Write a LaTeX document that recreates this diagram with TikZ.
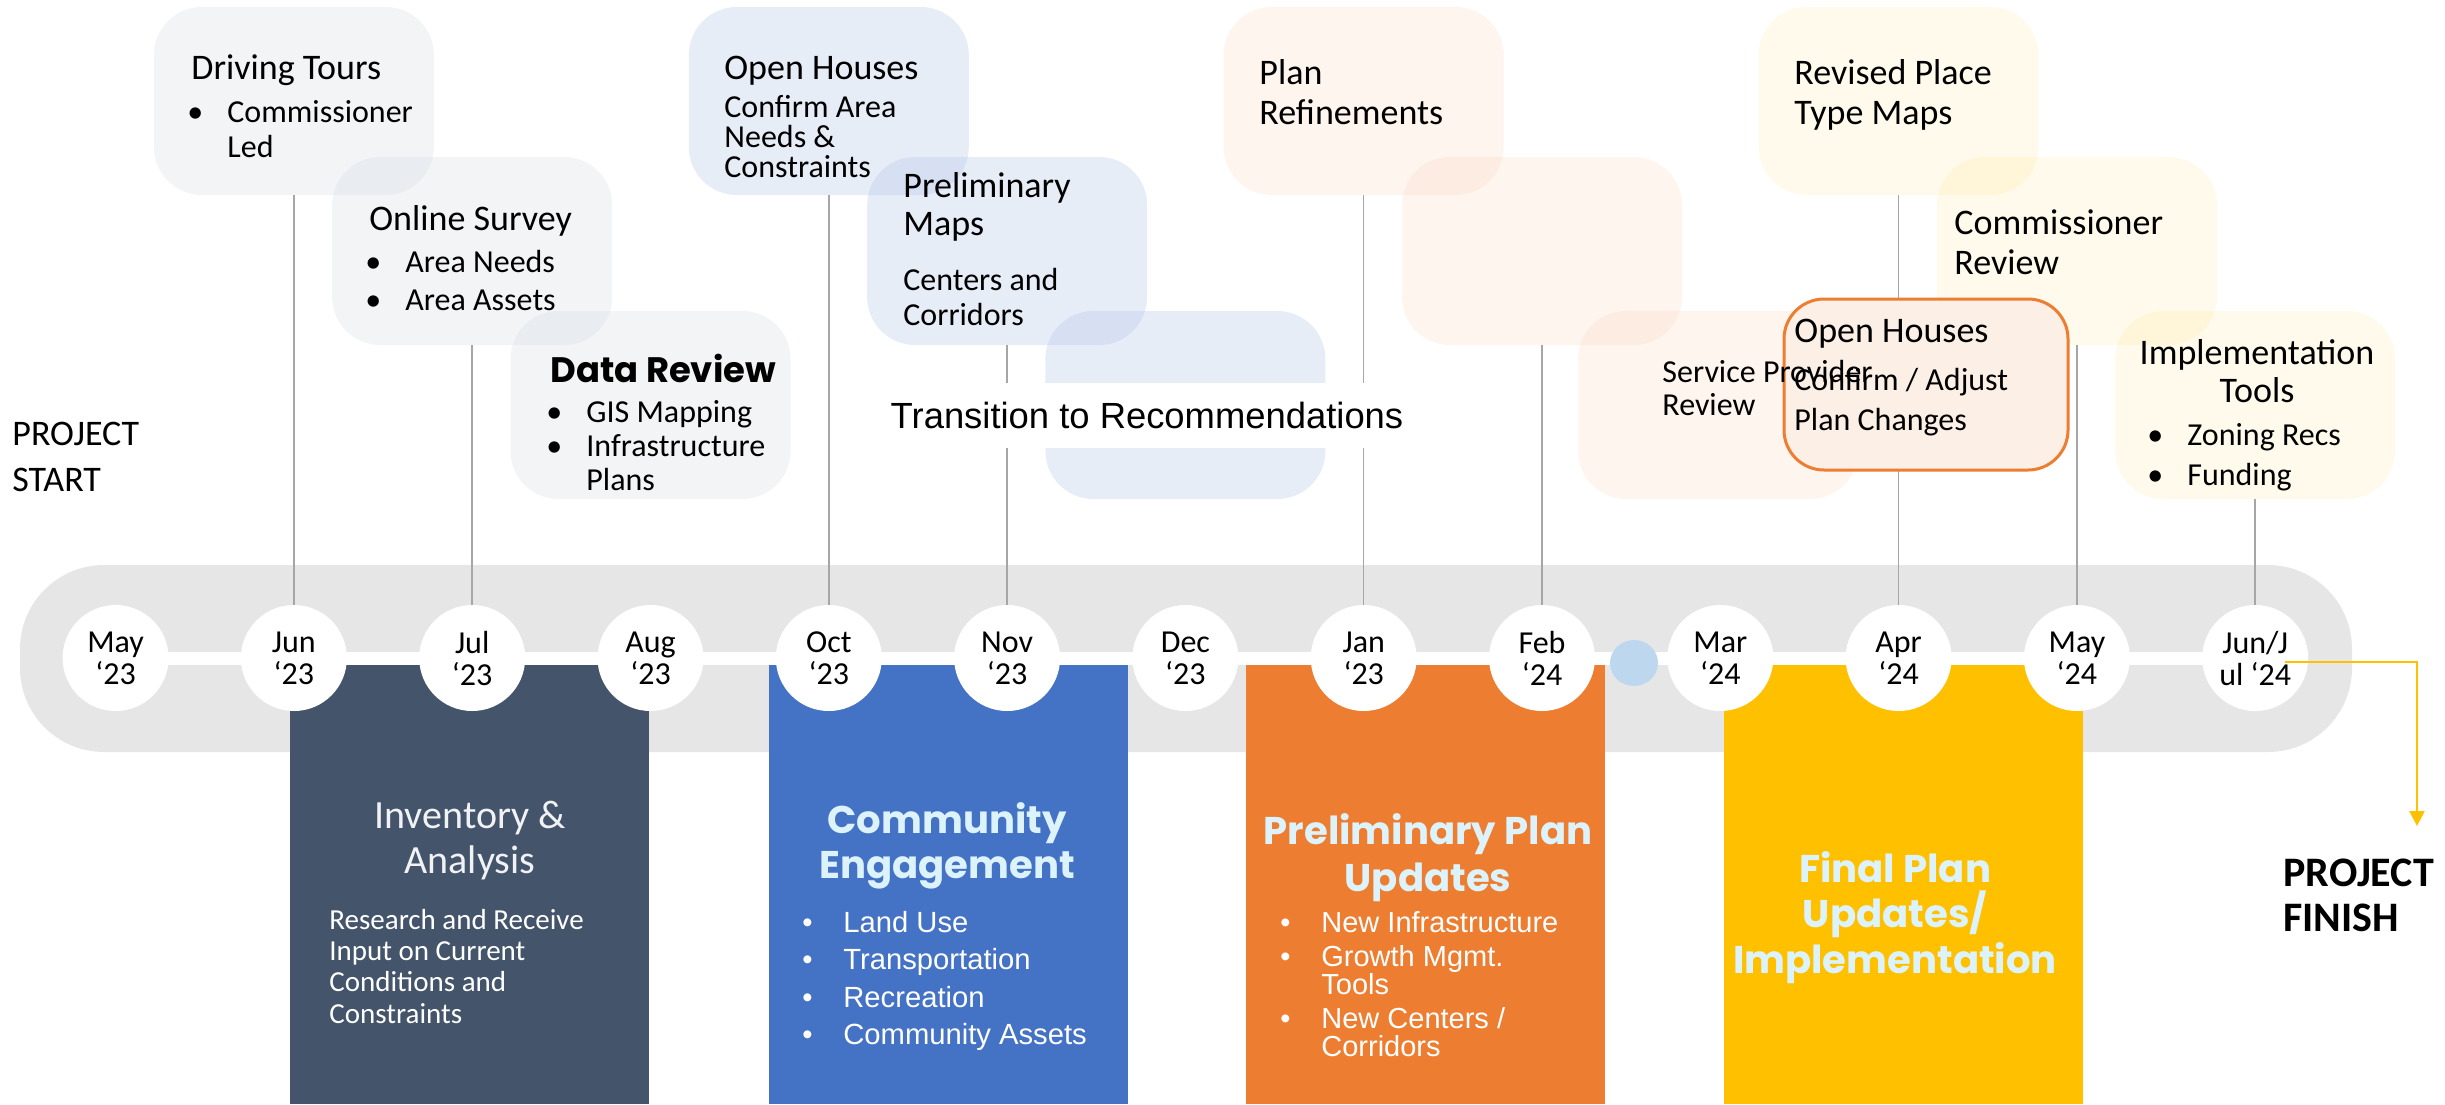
\documentclass[tikz,border=0pt]{standalone}
\usepackage{fontspec}
\setmainfont{Carlito}
\newfontfamily\geo{Poppins}
\newfontfamily\arialf{Liberation Sans}
\usetikzlibrary{arrows.meta,shapes.geometric}

\definecolor{bandgray}{HTML}{E6E6E6}
\definecolor{linegray}{HTML}{A6A6A6}
\definecolor{slate}{HTML}{44546A}
\definecolor{accblue}{HTML}{4472C4}
\definecolor{accorange}{HTML}{ED7D31}
\definecolor{accgold}{HTML}{FFC000}
\definecolor{dotblue}{HTML}{BDD7EE}
\definecolor{headcyan}{HTML}{DDF3FB}
\definecolor{invtitle}{HTML}{F0F2F5}
\definecolor{tintgray}{HTML}{D6DCE4}
\definecolor{tintblue}{HTML}{B4C7E7}
\definecolor{tintorange}{HTML}{F8CBAD}
\definecolor{tintgold}{HTML}{FFE699}
\definecolor{peach}{HTML}{FBEFE6}

\newcommand\fTitle{\fontsize{18}{20}\selectfont}
\newcommand\fSub{\fontsize{16}{17.5}\selectfont}
\newcommand\bul{\makebox[20pt][l]{•}}
\newcommand\ind{\hspace*{20pt}}
\newcommand\bulw{\makebox[20.5pt][l]{•}}
\newcommand\indw{\hspace*{20.5pt}}

\begin{document}
% multi-line labels are placed by the baseline of their last line
\begin{tikzpicture}[x=0.5pt, y=-0.5pt,
  month/.style={circle, fill=white, minimum size=53pt, inner sep=0pt, align=center,
                font=\fontsize{16}{16}\selectfont},
  callout/.style={rounded corners=24pt, minimum width=140pt, minimum height=94pt, inner sep=0pt},
  graytint/.style={callout, fill=tintgray, fill opacity=0.32},
  bluetint/.style={callout, fill=tintblue, fill opacity=0.33},
  orangetint/.style={callout, fill=tintorange, fill opacity=0.2},
  goldtint/.style={callout, fill=tintgold, fill opacity=0.2},
  phase/.style={rectangle, inner sep=0pt, minimum width=179.5pt, minimum height=219.5pt},
  conn/.style={draw=linegray, line width=0.75pt},
  lbl/.style={anchor=base west, align=left, inner sep=0pt},
  ctr/.style={anchor=base, align=center, inner sep=0pt},
  phasehead/.style={ctr, text=headcyan, font=\geo\bfseries\fontsize{19.3}{22.5}\selectfont},
  phaselist/.style={lbl, text=white, font=\arialf\fontsize{14.6}{18.7}\selectfont}
]
\useasboundingbox (0,0) rectangle (2445,1104);

% timeline band and its centre stripe
\fill[bandgray, rounded corners=42pt] (20,565) rectangle (2352,752);
\fill[white] (115,652) rectangle (2255,665);

% phase columns
\node[phase, fill=slate]     (invbox)   at (469.5,884.5)  {};
\node[phase, fill=accblue]   (combox)   at (948,884.5)    {};
\node[phase, fill=accorange] (prelbox)  at (1425.5,884.5) {};
\node[phase, fill=accgold]   (finalbox) at (1903.5,884.5) {};

% month markers
\node[month] (m1)  at (115.6,658)  {May\\‘23};
\node[month] (m2)  at (293.9,658)  {Jun\\‘23};
\node[month] (m3)  at (472.2,658)  {Jul\\‘23};
\node[month] (m4)  at (650.5,658)  {Aug\\‘23};
\node[month] (m5)  at (828.8,658)  {Oct\\‘23};
\node[month] (m6)  at (1007.1,658) {Nov\\‘23};
\node[month] (m7)  at (1185.4,658) {Dec\\‘23};
\node[month] (m8)  at (1363.7,658) {Jan\\‘23};
\node[month] (m9)  at (1542,658)   {Feb\\‘24};
\node[month] (m10) at (1720.3,658) {Mar\\‘24};
\node[month] (m11) at (1898.6,658) {Apr\\‘24};
\node[month] (m12) at (2076.9,658) {May\\‘24};
\node[month] (m13) at (2255.2,658) {Jun/J\\ul ‘24};
\node[ellipse, fill=dotblue, minimum width=24pt, minimum height=23pt, inner sep=0pt] (dot) at (1634,663) {};

% milestone call-outs
\node[graytint]   (drive)     at (293.9,101)  {};
\node[graytint]   (survey)    at (472.2,251)  {};
\node[graytint]   (datarev)   at (650.5,405)  {};
\node[bluetint]   (openoct)   at (828.8,101)  {};
\node[bluetint]   (prelmaps)  at (1007.1,251) {};
\node[bluetint]   (transbox)  at (1185.4,405) {};
\node[orangetint] (refine)    at (1363.7,101) {};
\node[orangetint] (orangemid) at (1542,251)   {};
\node[orangetint] (service)   at (1718,405)   {};
\node[goldtint]   (revised)   at (1898.6,101) {};
\node[goldtint]   (commrev)   at (2076.9,251) {};
\node[goldtint]   (impl)      at (2255.2,405) {};

% leaders from call-outs to months
\draw[conn] (drive.south)     -- (m2.north);
\draw[conn] (survey.south)    -- (m3.north);
\draw[conn] (openoct.south)   -- (m5.north);
\draw[conn] (prelmaps.south)  -- (m6.north);
\draw[conn] (refine.south)    -- (m8.north);
\draw[conn] (orangemid.south) -- (m9.north);
\draw[conn] (revised.south)   -- (m11.north);
\draw[conn] (commrev.south)   -- (m12.north);
\draw[conn] (impl.south)      -- (m13.north);

% highlighted open houses
\node[rounded corners=20pt, minimum width=142pt, minimum height=85.5pt, inner sep=0pt,
      fill=peach, draw=accorange, line width=1.5pt] (openapr) at (1926,384.5) {};

% transition banner
\node[fill=white, minimum width=267.5pt, minimum height=32.5pt, inner sep=0pt,
      font=\arialf\fontsize{18.2}{20}\selectfont] (trans) at (1147,415.5) {Transition to Recommendations};

% finish arrow
\coordinate (finarrow) at (2417,826);
\draw[accgold, line width=1.2pt, -{Triangle[length=7.5pt, width=7.5pt]}]
  ([shift={(14.9pt,-2pt)}]m13.center) -| (finarrow);

% call-out texts
\node[lbl, font=\fTitle] (tDrive)  at (191,79)  {Driving Tours};
\node[lbl, font=\fSub]   (tDriveB) at (187,157) {\bul Commissioner\\\ind Led};

\node[lbl, font=\fTitle] (tSurvey)  at (369,230) {Online Survey};
\node[lbl, font=\fSub]   (tSurveyB) at (365,310) {\bul Area Needs\\[1.5pt]\bul Area Assets};

\node[lbl, font=\geo\bfseries\fontsize{17.7}{20}\selectfont] (tData) at (550,382) {Data Review};
\node[lbl, font=\fontsize{16}{17}\selectfont] (tDataB) at (546,490) {\bul GIS Mapping\\\bul Infrastructure\\\ind Plans};

\node[lbl, font=\fTitle] (tOpenOct)  at (724,79)  {Open Houses};
\node[lbl, font=\fontsize{16}{14.8}\selectfont] (tOpenOctB) at (724,177) {Confirm Area\\Needs \&\\Constraints};

\node[lbl, font=\fontsize{18}{19}\selectfont] (tMaps)  at (903,235) {Preliminary\\Maps};
\node[lbl, font=\fSub]                        (tMapsB) at (903,325) {Centers and\\Corridors};

\node[lbl, font=\fTitle] (tRefine)  at (1259,124) {Plan\\Refinements};
\node[lbl, font=\fTitle] (tRevised) at (1794,124) {Revised Place\\Type Maps};
\node[lbl, font=\fTitle] (tComm)    at (1954,274) {Commissioner\\Review};

\node[lbl, font=\fTitle] (tOpenApr)  at (1794,342) {Open Houses};
\node[lbl, font=\fontsize{16}{20}\selectfont] (tOpenAprB) at (1794,430) {Confirm / Adjust\\Plan Changes};
\node[lbl, font=\fontsize{16}{16.5}\selectfont] (tService) at (1662,415) {Service Provider\\Review};

\node[ctr, font=\fontsize{18}{19}\selectfont] (tImpl)  at (2257,402) {Implementation\\Tools};
\node[lbl, font=\fontsize{16}{20}\selectfont] (tImplB) at (2147,485) {\bul Zoning Recs\\\bul Funding};

% start / finish labels
\node[lbl, font=\fontsize{18}{23}\selectfont] (tStart) at (12,491) {PROJECT\\START};
\node[lbl, font=\bfseries\fontsize{21}{22.5}\selectfont] (tFinish) at (2283,931.5) {PROJECT\\FINISH};

% phase column texts
\node[ctr, text=invtitle, font=\fontsize{20}{22.5}\selectfont] (tInv) at (470,873) {Inventory \&\\Analysis};
\node[lbl, text=white, font=\fontsize{14.5}{15.6}\selectfont] (tInvB) at (329,1023)
  {Research and Receive\\Input on Current\\Conditions and\\Constraints};

\node[phasehead] (tComE) at (947,878) {Community\\Engagement};
\node[phaselist] (tComEB) at (802,1044.5) {\bulw Land Use\\\bulw Transportation\\\bulw Recreation\\\bulw Community Assets};

\node[phasehead, font=\geo\bfseries\fontsize{19.3}{23.5}\selectfont] (tPrel) at (1428,891) {Preliminary Plan\\Updates};
\node[lbl, text=white, font=\arialf\fontsize{14.5}{14}\selectfont] (tPrelB) at (1280,1056)
  {\bulw New Infrastructure\\[3pt]\bulw Growth Mgmt.\\\indw Tools\\[3pt]\bulw New Centers /\\\indw Corridors};

\node[phasehead, font=\geo\bfseries\fontsize{19.3}{22.75}\selectfont] (tFinal) at (1895,973) {Final Plan\\Updates/\\Implementation};
\end{tikzpicture}
\end{document}
